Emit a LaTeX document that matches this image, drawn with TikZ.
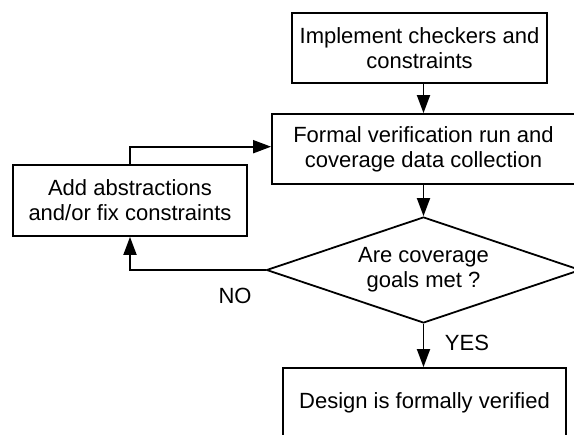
\documentclass[tikz,border=0pt]{standalone}
\usepackage{fontspec}
\setmainfont{Liberation Sans}
\usetikzlibrary{arrows.meta,shapes.geometric}
\begin{document}
\begin{tikzpicture}[x=1pt,y=-1pt,
  every node/.style={font=\fontsize{22}{25}\selectfont},
  stepbox/.style={draw,line width=1.8pt,rectangle,inner sep=0pt,align=center},
  decision/.style={draw,line width=1.8pt,diamond,inner sep=0pt,align=center,aspect=2.96},
  flow/.style={line width=1.8pt,-{Triangle[length=18pt,width=13pt]}},
  tag/.style={inner sep=0pt}]
\useasboundingbox (0,0) rectangle (574,435);
\clip (0,0) rectangle (574,435);
% process steps
\node[stepbox,minimum width=255pt,minimum height=70pt] (impl) at (419.5,48)
  {Implement checkers and\\constraints};
\node[stepbox,minimum width=303pt,minimum height=70pt] (formal) at (423.5,149)
  {Formal verification run and\\coverage data collection};
\node[stepbox,minimum width=234pt,minimum height=71pt] (add) at (130,200.5)
  {Add abstractions\\and/or fix constraints};
\node[decision,minimum width=314pt,minimum height=106pt] (goals) at (423.5,270)
  {Are coverage\\goals met ?};
\node[stepbox,minimum width=283pt,minimum height=70pt] (done) at (424.5,403)
  {Design is formally verified};
% branch labels
\node[tag] (no) at (235,296) {NO};
\node[tag] (yes) at (467,343) {YES};
% connectors
\draw[flow] (impl.south -| formal.north) -- (formal.north);
\draw[flow] (formal.south) -- (goals.north);
\draw[flow] (goals.south) -- (goals.south |- done.north);
\draw[flow] (goals.west) -| (add.south);
\draw[flow] (add.north) |- ([yshift=2.3pt]formal.west);
\end{tikzpicture}
\end{document}
